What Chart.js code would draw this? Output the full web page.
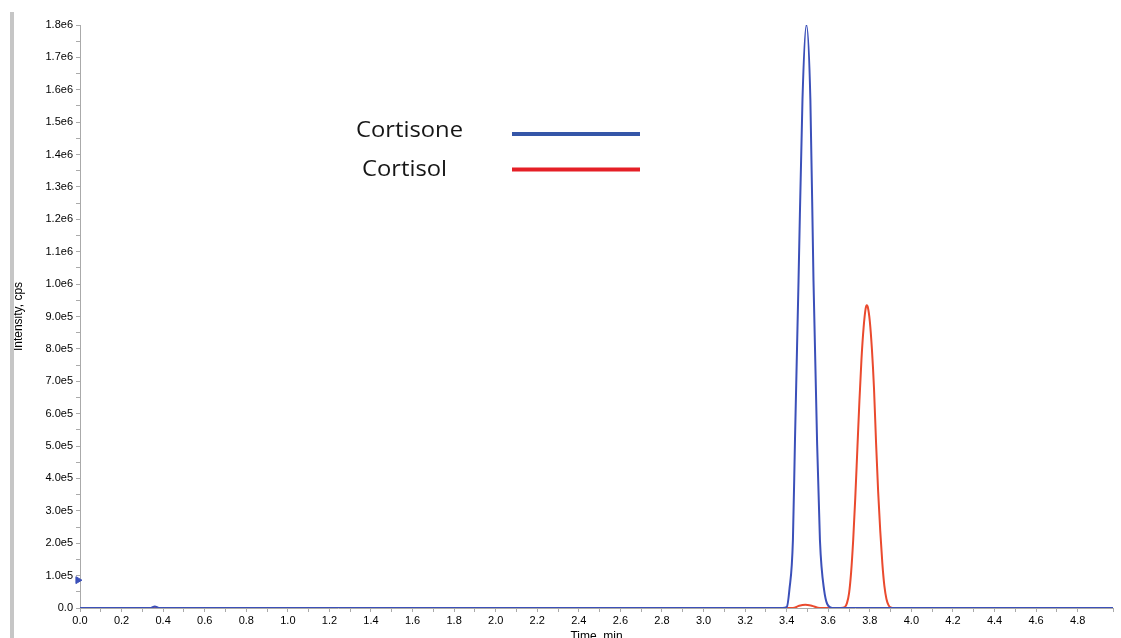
<!DOCTYPE html>
<html>
<head>
<meta charset="utf-8">
<script src="https://cdn.jsdelivr.net/npm/chart.js@4/dist/chart.umd.min.js"></script>
<style>
    body { margin: 0; background: #fff; }
    #wrap { position: relative; width: 1121px; height: 638px; }
    #bar { position: absolute; left: 10px; top: 12px; width: 4px; height: 626px; background: #c6c6c6; }
</style>
</head>
<body>
<div id="wrap">
    <div id="bar"></div>
    <canvas id="chromChart"></canvas>
</div>
<script>
// Retention time (min) and intensity (cps)
const cortisoneTime = [0, 0.34, 0.36, 0.38, 3.38, 3.40, 3.413, 3.43, 3.44, 3.457, 3.476, 3.495, 3.514, 3.529, 3.546, 3.56, 3.58, 3.61, 3.63, 4.98];
const cortisoneIntensity = [0, 0, 5000, 0, 0, 3000, 56000, 210000, 520000, 1010000, 1570000, 1800000, 1570000, 1010000, 520000, 210000, 56000, 2000, 0, 0];

const cortisolTime = [0, 3.43, 3.46, 3.49, 3.52, 3.56, 3.66, 3.68, 3.69, 3.70, 3.71, 3.72, 3.73, 3.74, 3.75, 3.76, 3.77, 3.78, 3.785, 3.79, 3.80, 3.81, 3.82, 3.83, 3.84, 3.85, 3.86, 3.87, 3.88, 3.89, 3.90, 3.92, 4.98];
const cortisolIntensity = [0, 0, 7000, 10000, 7000, 0, 0, 3000, 15000, 45000, 110000, 210000, 340000, 490000, 640000, 770000, 865000, 925000, 935000, 930000, 885000, 800000, 680000, 510000, 360000, 240000, 140000, 68000, 28000, 9000, 2000, 0, 0];

// small marker on the intensity axis
const markerTime = [-0.01];
const markerIntensity = [86000];

const legendItems = ['Cortisone', 'Cortisol'];
const legendColors = ['#3556a8', '#e51f26'];

function toPoints(xs, ys) {
    return xs.map((x, i) => ({ x: x, y: ys[i] }));
}

function yLabel(value) {
    if (value === 0) return '0.0';
    if (value % 100000 !== 0) return '';
    if (value >= 1000000) return (value / 1000000).toFixed(1) + 'e6';
    return (value / 100000).toFixed(1) + 'e5';
}

function xLabel(value) {
    const t = value * 10;
    if (Math.abs(t - Math.round(t)) > 0.01) return '';
    if (Math.round(t) % 2 !== 0) return '';
    return value.toFixed(1);
}

// draws the hand-placed legend (text then line)
const legendPlugin = {
    id: 'textLegend',
    afterDraw(chart) {
        const ctx = chart.ctx;
        ctx.save();
        ctx.font = '22px "Open Sans", Lato, sans-serif';
        ctx.fillStyle = '#161616';
        ctx.textBaseline = 'alphabetic';
        const sx = 107 / ctx.measureText('Cortisone').width;
        const rows = [
            { x: 356, y: 137, ly: 134 },
            { x: 362, y: 176, ly: 169.5 }
        ];
        rows.forEach((r, i) => {
            ctx.save();
            ctx.translate(r.x, r.y);
            ctx.scale(sx, 1);
            ctx.fillText(legendItems[i], 0, 0);
            ctx.restore();
            ctx.beginPath();
            ctx.strokeStyle = legendColors[i];
            ctx.lineWidth = 4;
            ctx.moveTo(512, r.ly);
            ctx.lineTo(640, r.ly);
            ctx.stroke();
        });
        ctx.restore();
    }
};

const ctx = document.getElementById('chromChart').getContext('2d');
new Chart(ctx, {
    type: 'line',
    data: {
        datasets: [{
            label: 'Cortisone',
            data: toPoints(cortisoneTime, cortisoneIntensity),
            borderColor: '#3b50b9',
            borderWidth: 2,
            pointRadius: 0,
            cubicInterpolationMode: 'monotone'
        }, {
            label: 'Cortisol',
            data: toPoints(cortisolTime, cortisolIntensity),
            borderColor: '#ea4a2e',
            borderWidth: 2,
            pointRadius: 0,
            cubicInterpolationMode: 'monotone'
        }, {
            label: 'marker',
            data: toPoints(markerTime, markerIntensity),
            showLine: false,
            pointStyle: 'triangle',
            rotation: 90,
            pointRadius: 4,
            backgroundColor: '#3b50b9',
            borderColor: '#3b50b9',
            clip: false
        }]
    },
    options: {
        responsive: true,
        maintainAspectRatio: false,
        animation: false,
        layout: { padding: { left: 10, top: 25, right: 8, bottom: 0 } },
        plugins: {
            legend: { display: false },
            tooltip: { enabled: false }
        },
        scales: {
            x: {
                type: 'linear',
                min: 0,
                max: 4.97,
                afterFit: function(scale) { scale.height = 30; },
                ticks: {
                    stepSize: 0.1,
                    autoSkip: false,
                    maxRotation: 0,
                    padding: 2,
                    color: '#000',
                    font: { family: 'Arial, "Liberation Sans"', size: 11 },
                    callback: xLabel
                },
                grid: { drawOnChartArea: false, tickLength: 4, color: '#aaa' },
                border: { color: '#aaa' },
                title: {
                    display: true,
                    text: 'Time, min',
                    color: '#000',
                    font: { family: 'Arial, "Liberation Sans"', size: 12 },
                    padding: { top: 0, bottom: -6 }
                }
            },
            y: {
                min: 0,
                max: 1800000,
                afterFit: function(scale) { scale.width = 70; },
                ticks: {
                    stepSize: 50000,
                    autoSkip: false,
                    padding: 3,
                    color: '#000',
                    font: { family: 'Arial, "Liberation Sans"', size: 11 },
                    callback: yLabel
                },
                grid: { drawOnChartArea: false, tickLength: 4, color: '#aaa' },
                border: { color: '#aaa' },
                title: {
                    display: true,
                    text: 'Intensity, cps',
                    color: '#000',
                    font: { family: 'Arial, "Liberation Sans"', size: 12 },
                    padding: { top: 1, bottom: 0 }
                }
            }
        }
    },
    plugins: [legendPlugin]
});
</script>
</body>
</html>
